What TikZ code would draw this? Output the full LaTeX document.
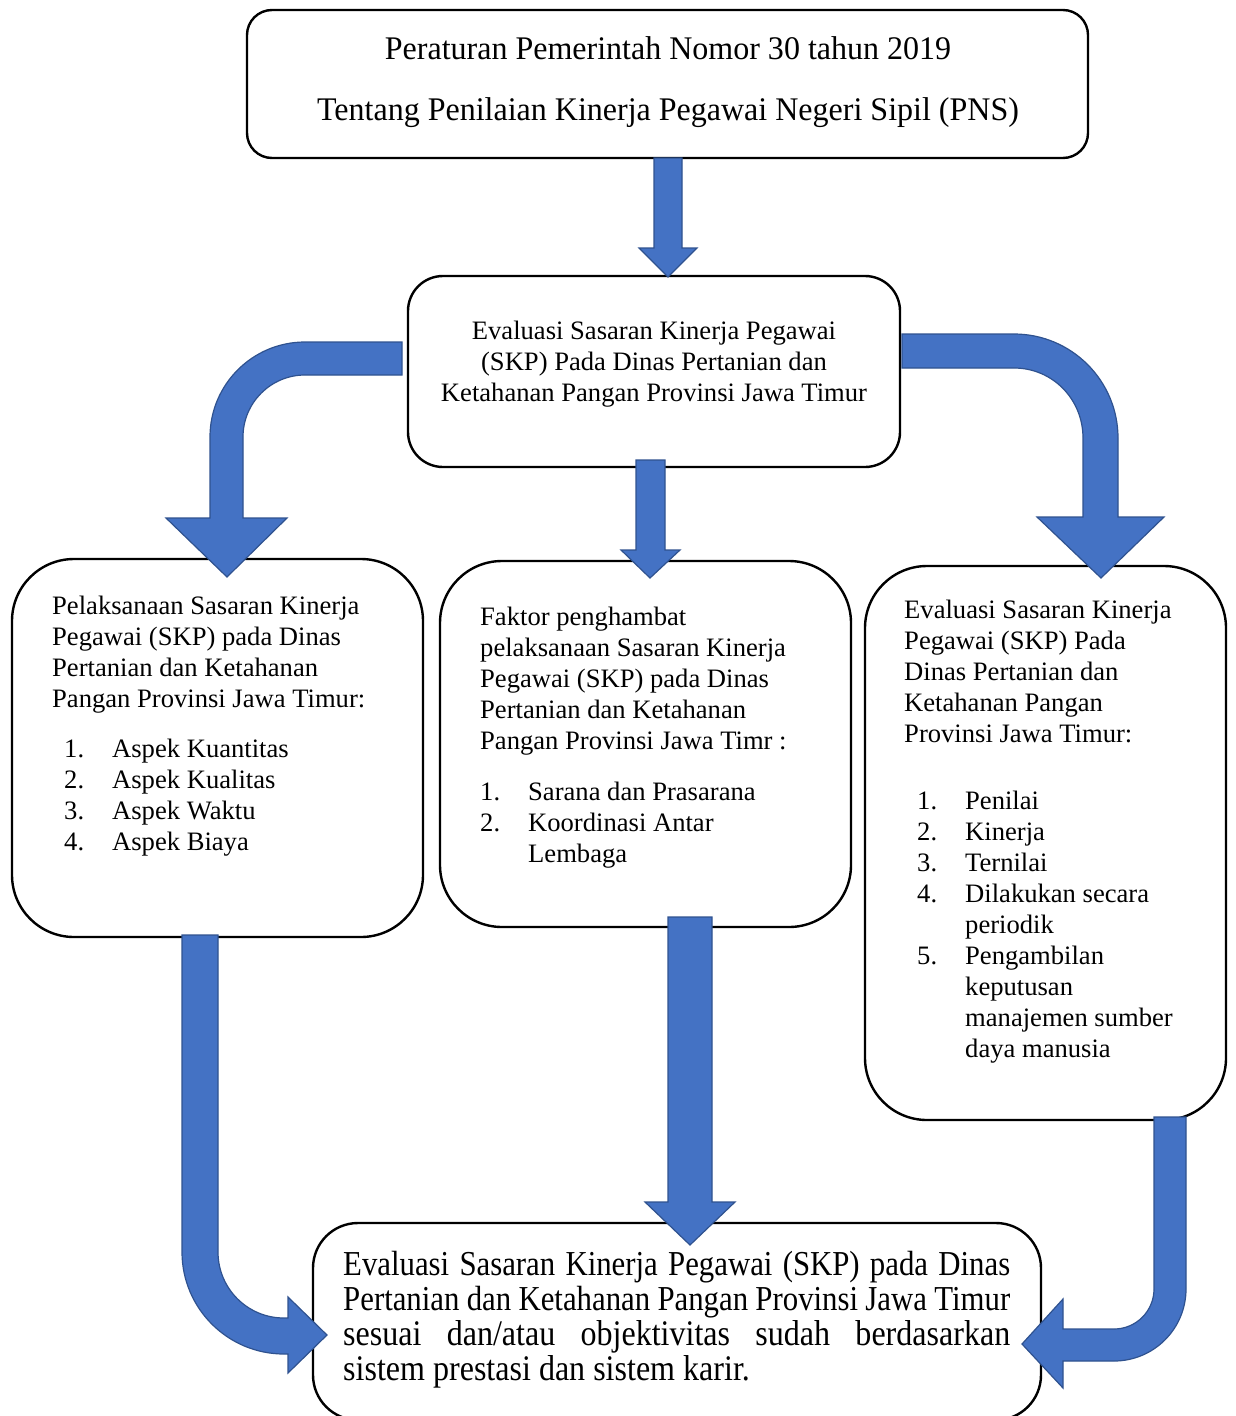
\documentclass[tikz,border=0pt]{standalone}
\usepackage{fontspec}
\setmainfont{Liberation Serif}
\newfontfamily\titleserif[FakeStretch=0.97]{Liberation Serif}
\newfontfamily\resultserif[FakeStretch=0.88]{Liberation Serif}
\newfontfamily\resultwide[FakeStretch=0.89]{Liberation Serif}
\definecolor{arrowfill}{HTML}{4472C4}
\definecolor{arrowline}{HTML}{2F528F}
\newcommand{\listnum}[2]{\makebox[48pt][l]{#1}#2}

\begin{document}
\begin{tikzpicture}[x=1pt, y=-1pt,
    panel/.style={draw, line width=2.4pt, rounded corners=#1, inner sep=0pt},
    bodytext/.style={inner sep=0pt, align=left, font=\fontsize{26.6}{31}\selectfont},
    blockarrow/.style={fill=arrowfill, draw=arrowline, line width=1.2pt}]
    \useasboundingbox (0,0) rectangle (1235,1416);
    \clip (0,0) rectangle (1235,1416);

    % boxes
    \node[panel=25pt, minimum width=841pt, minimum height=148pt] (title) at (667.5,84) {};
    \node[panel=35pt, minimum width=492pt, minimum height=191pt] (evalbox) at (654,371.5) {};
    \node[panel=62pt, minimum width=411pt, minimum height=378pt] (implbox) at (217.5,748) {};
    \node[panel=62pt, minimum width=411pt, minimum height=366pt] (factorbox) at (645.5,744) {};
    \node[panel=62pt, minimum width=361pt, minimum height=554pt] (critbox) at (1045.5,843) {};
    \node[panel=45pt, minimum width=728pt, minimum height=197pt] (resultbox) at (677,1321.5) {};

    % texts
    \node[inner sep=0pt, align=center, anchor=north, font=\titleserif\fontsize{33}{61}\selectfont] (titletext) at (668,36)
        {Peraturan Pemerintah Nomor 30 tahun 2019\\Tentang Penilaian Kinerja Pegawai Negeri Sipil (PNS)};
    \node[bodytext, align=center, anchor=north] (evaltext) at (654,321)
        {Evaluasi Sasaran Kinerja Pegawai\\(SKP) Pada Dinas Pertanian dan\\Ketahanan Pangan Provinsi Jawa Timur};
    \node[bodytext, anchor=north west] (impltext) at (52,596)
        {Pelaksanaan Sasaran Kinerja\\
         Pegawai (SKP) pada Dinas\\
         Pertanian dan Ketahanan\\
         Pangan Provinsi Jawa Timur:\\[19pt]
         \hspace*{12pt}\listnum{1.}{Aspek Kuantitas}\\
         \hspace*{12pt}\listnum{2.}{Aspek Kualitas}\\
         \hspace*{12pt}\listnum{3.}{Aspek Waktu}\\
         \hspace*{12pt}\listnum{4.}{Aspek Biaya}};
    \node[bodytext, anchor=north west] (factortext) at (480,607)
        {Faktor penghambat\\
         pelaksanaan Sasaran Kinerja\\
         Pegawai (SKP) pada Dinas\\
         Pertanian dan Ketahanan\\
         Pangan Provinsi Jawa Timr :\\[20pt]
         \listnum{1.}{Sarana dan Prasarana}\\
         \listnum{2.}{Koordinasi Antar}\\
         \listnum{}{Lembaga}};
    \node[bodytext, anchor=north west] (crittext) at (904,600)
        {Evaluasi Sasaran Kinerja\\
         Pegawai (SKP) Pada\\
         Dinas Pertanian dan\\
         Ketahanan Pangan\\
         Provinsi Jawa Timur:\\[36pt]
         \hspace*{13pt}\listnum{1.}{Penilai}\\
         \hspace*{13pt}\listnum{2.}{Kinerja}\\
         \hspace*{13pt}\listnum{3.}{Ternilai}\\
         \hspace*{13pt}\listnum{4.}{Dilakukan secara}\\
         \hspace*{13pt}\listnum{}{periodik}\\
         \hspace*{13pt}\listnum{5.}{Pengambilan}\\
         \hspace*{13pt}\listnum{}{keputusan}\\
         \hspace*{13pt}\listnum{}{manajemen sumber}\\
         \hspace*{13pt}\listnum{}{daya manusia}};
    \node[inner sep=0pt, text width=667pt, align=justify, anchor=north west,
          font=\resultserif\fontsize{35}{35}\selectfont] (resulttext) at (343,1251)
        {Evaluasi Sasaran Kinerja Pegawai (SKP) pada Dinas\linebreak
         Pertanian dan Ketahanan Pangan Provinsi Jawa Timur\linebreak
         {\resultwide\fontsize{36}{35}\selectfont sesuai dan/atau objektivitas sudah berdasarkan\linebreak
         sistem prestasi dan sistem karir.}};

    % block arrows
    \draw[blockarrow] (654,158) -- (654,248) -- (639,248) -- (668,277) -- (697,248) -- (682,248) -- (682,158) -- cycle;
    \draw[blockarrow] (636,460) -- (636,550) -- (621,550) -- (650,578) -- (680,550) -- (665,550) -- (665,460) -- cycle;
    \draw[blockarrow] (402,342) -- (305,342) .. controls (252.5,342) and (210,384.5) .. (210,437)
        -- (210,518) -- (166,518) -- (227,577) -- (287,518) -- (243,518) -- (243,437)
        .. controls (243,402.8) and (270.8,375) .. (305,375) -- (402,375) -- cycle;
    \draw[blockarrow] (902,334) -- (1014,334) .. controls (1071.4,334) and (1118,380.6) .. (1118,438)
        -- (1118,517) -- (1164,517) -- (1101,578) -- (1037,517) -- (1083,517) -- (1083,438)
        .. controls (1083,399.3) and (1052.7,368) .. (1014,368) -- (902,368) -- cycle;
    \draw[blockarrow] (668,917) -- (668,1202) -- (645,1202) -- (690,1245) -- (735,1202) -- (712,1202) -- (712,917) -- cycle;
    \draw[blockarrow] (182,935) -- (182,1252) .. controls (182,1308.3) and (227.7,1354) .. (284,1354)
        -- (288,1354) -- (288,1373) -- (327,1335) -- (288,1297) -- (288,1318) -- (284,1318)
        .. controls (247.5,1318) and (218,1288.5) .. (218,1252) -- (218,935) -- cycle;
    \draw[blockarrow] (1186,1117) -- (1186,1289) .. controls (1186,1328.8) and (1153.8,1361) .. (1114,1361)
        -- (1063,1361) -- (1063,1388) -- (1022,1344) -- (1063,1299) -- (1063,1329) -- (1114,1329)
        .. controls (1136.1,1329) and (1154,1311.1) .. (1154,1289) -- (1154,1117) -- cycle;
\end{tikzpicture}
\end{document}
